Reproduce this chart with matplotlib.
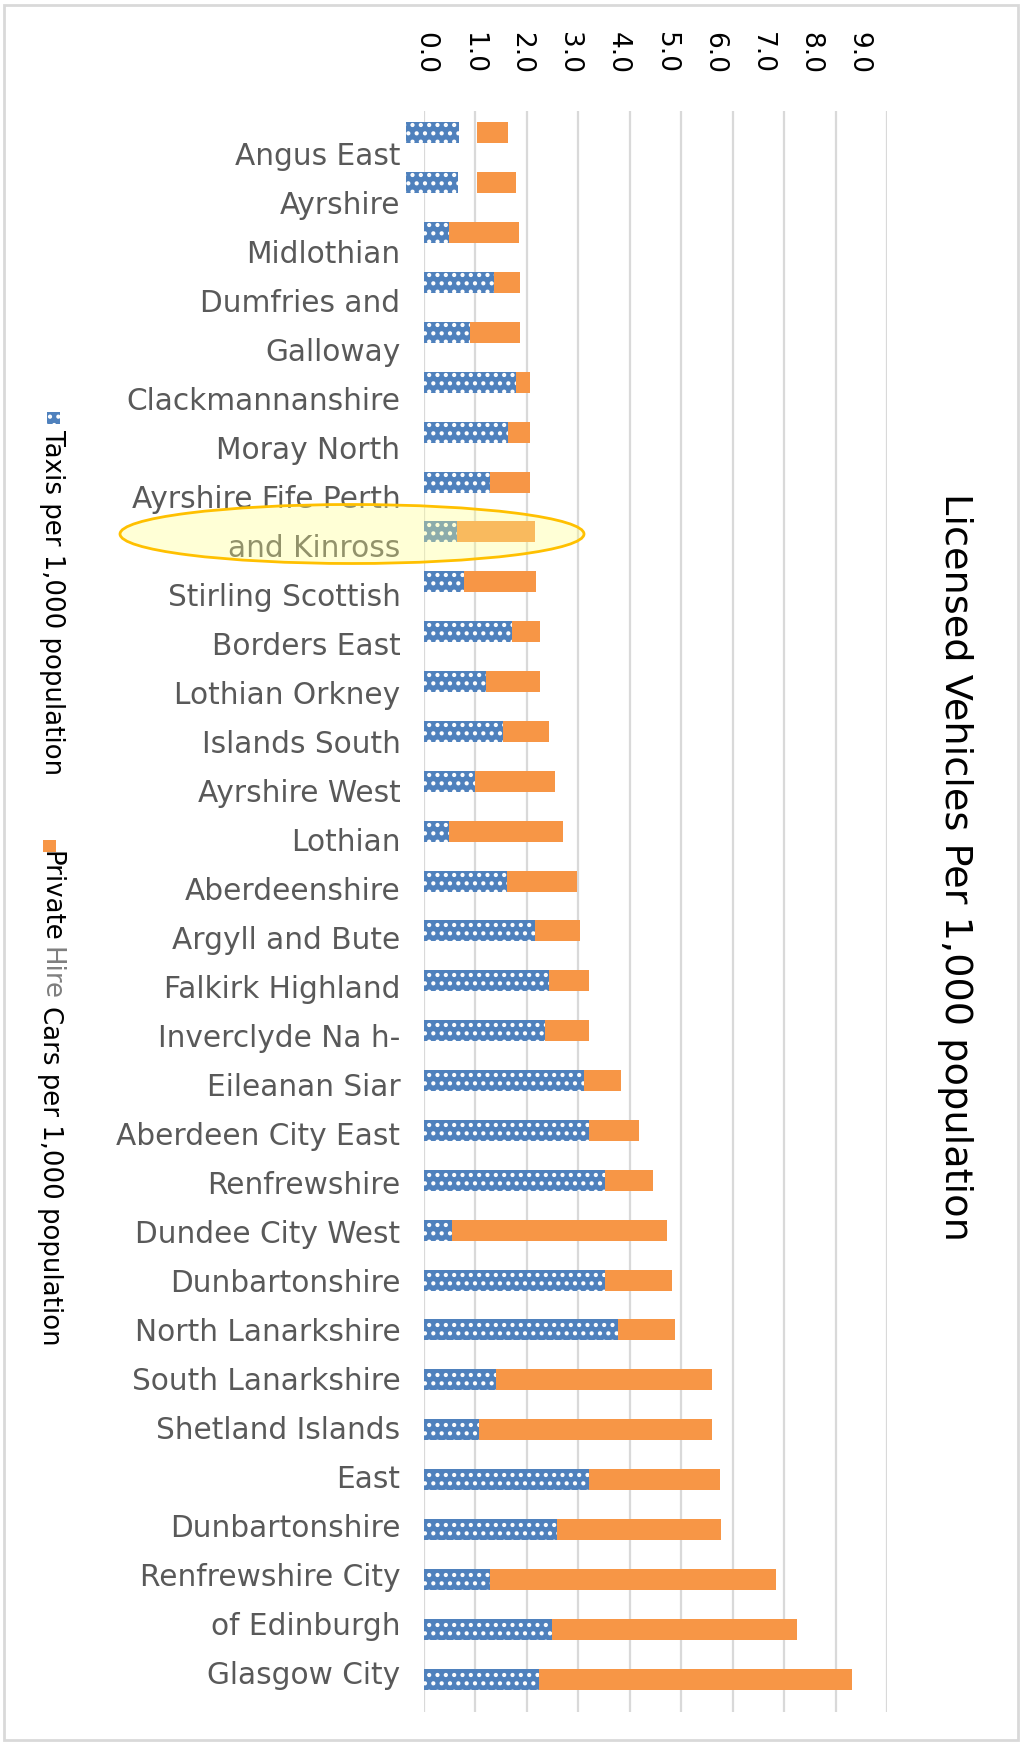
import matplotlib
matplotlib.use("Agg")
import matplotlib.pyplot as plt
from matplotlib.patches import Rectangle, Ellipse

W, H = 1024, 1743

categories = ["Angus East", "Ayrshire", "Midlothian", "Dumfries and", "Galloway",
              "Clackmannanshire", "Moray North", "Ayrshire Fife Perth", "and Kinross",
              "Stirling Scottish", "Borders East", "Lothian Orkney", "Islands South",
              "Ayrshire West", "Lothian", "Aberdeenshire", "Argyll and Bute",
              "Falkirk Highland", "Inverclyde Na h-", "Eileanan Siar",
              "Aberdeen City East", "Renfrewshire", "Dundee City West", "Dunbartonshire",
              "North Lanarkshire", "South Lanarkshire", "Shetland Islands", "East",
              "Dunbartonshire", "Renfrewshire City", "of Edinburgh", "Glasgow City"]

taxis = [1.03, 1.01, 0.49, 1.36, 0.89, 1.79, 1.63, 1.28, 0.65, 0.78, 1.72, 1.20,
         1.54, 1.00, 0.48, 1.61, 2.15, 2.43, 2.35, 3.11, 3.20, 3.52, 0.54, 3.52,
         3.78, 1.39, 1.07, 3.20, 2.59, 1.29, 2.48, 2.23]
hire = [0.60, 0.76, 1.35, 0.50, 0.97, 0.27, 0.44, 0.79, 1.50, 1.39, 0.54, 1.06,
        0.89, 1.54, 2.22, 1.37, 0.89, 0.77, 0.85, 0.72, 0.97, 0.94, 4.18, 1.31,
        1.09, 4.20, 4.52, 2.56, 3.19, 5.56, 4.77, 6.09]
# misaligned first rows in the original picture
taxi_shift = [-0.35, -0.35] + [0.0] * 30
hire_gap = [0.35, 0.37] + [0.0] * 30

tick_values = [0, 1, 2, 3, 4, 5, 6, 7, 8, 9]
tick_labels = ["0.0", "1.0", "2.0", "3.0", "4.0", "5.0", "6.0", "7.0", "8.0", "9.0"]

title = "Licensed Vehicles Per 1,000 population"
legend_taxi = "Taxis per 1,000 population"
legend_hire = ["Private", "Hire", "Cars per 1,000 population"]

BLUE = "#4F81BD"
ORANGE = "#F79646"
GRID = "#D9D9D9"
LABEL = "#595959"

plt.rcParams['hatch.linewidth'] = 1.8
fig = plt.figure(figsize=(W / 100, H / 100), dpi=100)

def fx(px):
    return px / W

def fy(py):
    return 1 - py / H

# main axes
ax_left, ax_right = 424, 887
ax_top, ax_bot = 111, 1712
ax = fig.add_axes([fx(ax_left), fy(ax_bot), (ax_right - ax_left) / W, (ax_bot - ax_top) / H])
n = len(categories)
ypos = list(range(n))
ax.set_xlim(0, 9)
ax.set_ylim(n - 1 + 0.66, -0.44)
ax.set_xticks(tick_values)
ax.set_xticklabels([])
ax.set_yticks([])
ax.tick_params(length=0)
ax.grid(axis='x', color=GRID, lw=1.6)
ax.set_axisbelow(True)
for s in ax.spines.values():
    s.set_visible(False)

bh = 0.42
taxi_end = [s + t for s, t in zip(taxi_shift, taxis)]
hire_left = [e + g for e, g in zip(taxi_end, hire_gap)]
ax.barh(ypos, taxis, left=taxi_shift, height=bh, color=BLUE, edgecolor="white",
        hatch="..", lw=0, clip_on=False, zorder=3)
ax.barh(ypos, hire, left=hire_left, height=bh, color=ORANGE, lw=0, clip_on=False, zorder=3)

# category labels (slightly different spacing than the bars in the original)
axl = fig.add_axes(ax.get_position())
axl.patch.set_visible(False)
axl.set_xlim(0, 9)
axl.set_ylim(31.80, -0.857)
axl.set_xticks([])
axl.set_yticks(ypos)
axl.set_yticklabels(categories, fontsize=21.3, color=LABEL)
axl.tick_params(axis='y', length=0, pad=17)
for s in axl.spines.values():
    s.set_visible(False)

# top tick labels (misaligned with the grid in the original)
axt = fig.add_axes([fx(425), fy(60), (858 - 425) / W, 14 / H])
axt.set_xlim(0, 9)
axt.axis('off')
for v, lab in zip(tick_values, tick_labels):
    axt.text(v, 0.5, lab, rotation=270, ha='center', va='center', fontsize=19,
             color="black", transform=axt.get_xaxis_transform())

# title
fig.text(fx(955), fy(867), title, rotation=270, ha='center', va='center',
         fontsize=27.5, color="black")

# legend
fig.patches.append(Rectangle((fx(47), fy(424)), 13 / W, 12 / H, transform=fig.transFigure,
                             facecolor=BLUE, edgecolor="white", hatch="..", lw=0))
fig.text(fx(52), fy(430), legend_taxi, rotation=270, ha='center', va='top',
         fontsize=18.7, color="black")
fig.patches.append(Rectangle((fx(43), fy(852)), 13 / W, 12 / H, transform=fig.transFigure,
                             facecolor=ORANGE, lw=0))
p1 = fig.text(fx(50), fy(851), legend_hire[0], rotation=270, ha='center', va='top',
              fontsize=18.7, color="black")
p2 = ax.annotate(legend_hire[1], xy=(0.5, 0), xycoords=p1, xytext=(0, -4),
                 textcoords='offset points', rotation=270, ha='center', va='top',
                 fontsize=18.7, color="#7F7F7F", annotation_clip=False)
ax.annotate(legend_hire[2], xy=(0.5, 0), xycoords=p2, xytext=(0, -4),
            textcoords='offset points', rotation=270, ha='center', va='top',
            fontsize=18.7, color="black", annotation_clip=False)

# highlight ellipse
ell = Ellipse((fx(352), fy(534)), 464 / W, 59 / H, transform=fig.transFigure,
              facecolor=(1.0, 1.0, 0.55, 0.35), edgecolor="#FFC000", lw=2, zorder=10)
fig.add_artist(ell)

# chart border
fig.patches.append(Rectangle((fx(4), fy(1740)), (1018 - 4) / W, (1740 - 5) / H,
                             transform=fig.transFigure, fill=False, edgecolor=GRID, lw=2))

fig.savefig("out.png", dpi=100)
